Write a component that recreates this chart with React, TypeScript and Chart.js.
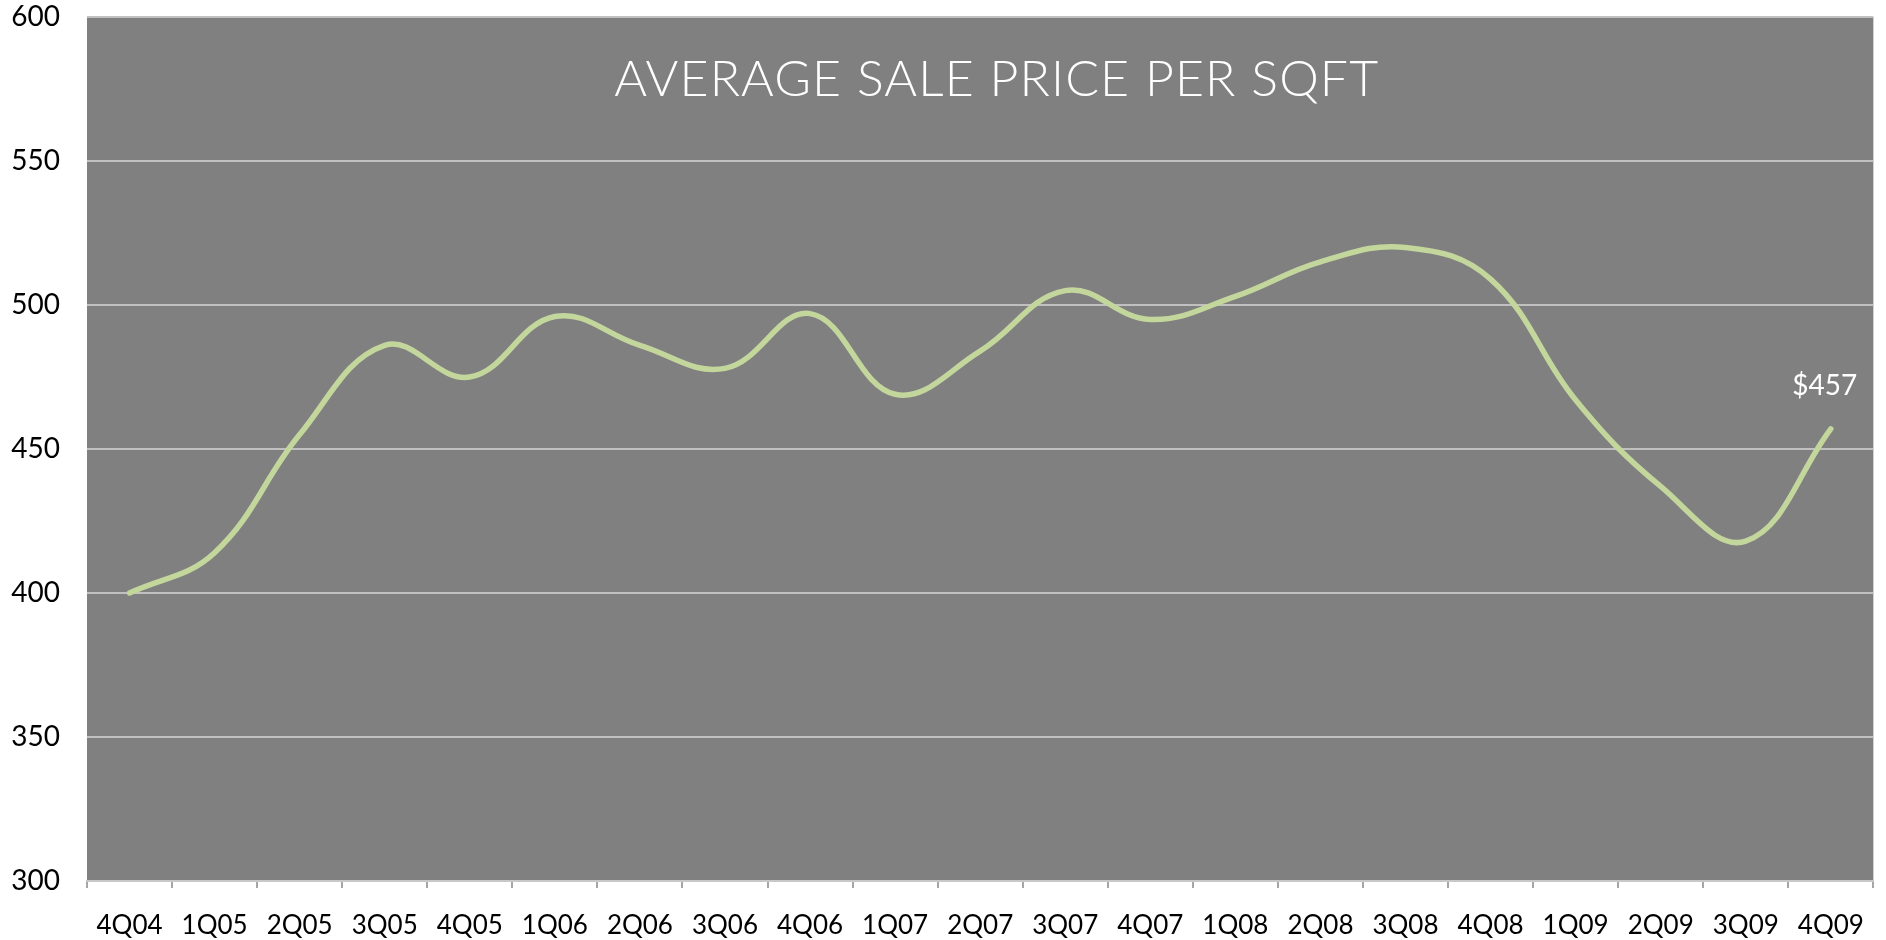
import React, { useEffect, useRef } from "react";
import { Chart, registerables } from "chart.js";

Chart.register(...registerables);

const quarters = [
  "4Q04", "1Q05", "2Q05", "3Q05", "4Q05", "1Q06", "2Q06", "3Q06", "4Q06", "1Q07",
  "2Q07", "3Q07", "4Q07", "1Q08", "2Q08", "3Q08", "4Q08", "1Q09", "2Q09", "3Q09", "4Q09",
];
const avgPrice = [
  400, 414, 455, 486, 475, 496, 486, 478, 497, 469,
  484, 505, 495, 503, 515, 520, 509, 467, 437, 418, 457,
];
const yTicks = [300, 350, 400, 450, 500, 550, 600];
const chartTitle = "AVERAGE SALE PRICE PER SQFT";
const lastLabel = "$457";

const FONT = "Lato, 'Noto Sans', sans-serif";

const plotBg = {
  id: "plotBg",
  beforeDraw(chart: any) {
    const { ctx, chartArea } = chart;
    ctx.save();
    ctx.fillStyle = "#808080";
    ctx.fillRect(chartArea.left, chartArea.top, chartArea.right - chartArea.left, chartArea.bottom - chartArea.top);
    ctx.restore();
  },
};

const overlayText = {
  id: "overlayText",
  afterDraw(chart: any) {
    const { ctx, chartArea } = chart;
    ctx.save();
    ctx.fillStyle = "#ffffff";
    ctx.textAlign = "center";
    ctx.textBaseline = "middle";
    ctx.font = `300 50px ${FONT}`;
    const cx = (chartArea.left + chartArea.right) / 2 + 16;
    const text = chartTitle;
    const target = 764;
    const w = ctx.measureText(text).width;
    const extra = (target - w) / (text.length - 1);
    const ty = chartArea.top + 63;
    if (Math.abs(extra) < 20 && "letterSpacing" in ctx) {
      (ctx as any).letterSpacing = `${extra}px`;
      ctx.textAlign = "left";
      ctx.fillText(text, cx - target / 2, ty);
      (ctx as any).letterSpacing = "0px";
    } else {
      ctx.fillText(text, cx, ty);
    }
    const meta = chart.getDatasetMeta(0);
    const pt = meta.data[meta.data.length - 1];
    ctx.textAlign = "center";
    ctx.font = `28px ${FONT}`;
    ctx.fillText(lastLabel, pt.x - 6, pt.y - 43);
    ctx.restore();
  },
};

export default function App() {
  const ref = useRef<HTMLCanvasElement | null>(null);
  useEffect(() => {
    if (!ref.current) return;
    const chart = new Chart(ref.current, {
      type: "line",
      data: {
        labels: quarters,
        datasets: [
          {
            data: avgPrice,
            borderColor: "#c3d69b",
            borderWidth: 5.5,
            pointRadius: 0,
            tension: 0.4,
            fill: false,
            borderCapStyle: "round",
            borderJoinStyle: "round",
          },
        ],
      },
      options: {
        animation: false,
        responsive: true,
        maintainAspectRatio: false,
        layout: { padding: { left: 0, right: 6, top: 0, bottom: 0 } },
        plugins: {
          legend: { display: false },
          tooltip: { enabled: false },
          title: { display: false },
        },
        scales: {
          x: {
            offset: true,
            grid: {
              offset: true,
              drawOnChartArea: false,
              drawTicks: true,
              tickLength: 7,
              color: "#a6a6a6",
              lineWidth: 2,
            },
            border: { display: true, color: "#c8c8c8", width: 2 },
            ticks: {
              color: "#000000",
              font: { family: FONT, size: 26 },
              padding: 22,
              maxRotation: 0,
              autoSkip: false,
            },
            afterFit(scale: any) {
              scale.height = 59;
            },
          },
          y: {
            min: 300,
            max: 600,
            afterFit(scale: any) {
              scale.width = 87;
              scale.paddingTop = 17;
              scale.paddingBottom = 0;
            },
            afterBuildTicks(scale: any) {
              scale.ticks = yTicks.map((v) => ({ value: v }));
            },
            grid: {
              drawTicks: false,
              color: "#c0c0c0",
              lineWidth: 2,
            },
            border: { display: false },
            ticks: {
              color: "#000000",
              font: { family: FONT, size: 28 },
              padding: 27,
            },
          },
        },
      },
      plugins: [plotBg, overlayText],
    });
    return () => chart.destroy();
  }, []);
  return (
    <div style={{ position: "fixed", left: 0, top: 0, width: 1886, height: 940, background: "#ffffff" }}>
      <canvas ref={ref} />
    </div>
  );
}
